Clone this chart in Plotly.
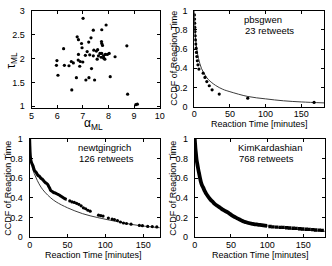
import plotly.graph_objects as go

# ---------------- data ----------------
alpha_ml = [7.01, 7.91, 7.74, 7.41, 6.78, 7.32, 6.83, 6.95, 7.23, 7.73, 7.74, 7.77, 8.72,
            6.25, 6.97, 7.17, 7.43, 7.27, 7.53, 7.58, 7.10, 7.67, 7.61, 7.41, 7.56, 6.83,
            7.88, 7.96, 8.03, 7.81, 7.82, 7.72, 7.86, 8.26, 7.74, 5.99, 5.97, 6.28, 6.46,
            6.55, 6.63, 6.82, 6.90, 7.00, 6.88, 7.34, 6.03, 6.75, 7.24, 7.12, 7.46, 8.07,
            6.57, 8.75, 9.07, 9.13]
tau_ml = [2.85, 2.71, 2.61, 2.60, 2.46, 2.44, 2.40, 2.32, 2.35, 2.36, 2.32, 2.28, 2.27,
          2.21, 2.23, 2.15, 2.18, 2.08, 2.16, 2.19, 2.07, 2.11, 2.06, 2.06, 1.99, 2.09,
          2.09, 2.09, 2.11, 2.06, 2.01, 2.03, 1.99, 2.04, 2.11, 1.96, 1.86, 1.86, 1.85,
          1.94, 1.91, 1.97, 1.94, 1.93, 1.84, 1.79, 1.65, 1.60, 1.60, 1.55, 1.55, 1.62,
          1.34, 1.25, 1.03, 1.04]

pbs_t = [0.2, 0.4, 0.6, 0.8, 1.0, 1.3, 1.6, 2.0, 2.5, 3.0, 3.6, 4.3, 5.2, 6.5,
         12.5, 15, 17.6, 21, 25, 35, 75, 168]
pbs_ccdf = [0.957, 0.913, 0.870, 0.826, 0.783, 0.739, 0.696, 0.652, 0.609, 0.565, 0.522,
            0.478, 0.435, 0.391, 0.348, 0.304, 0.261, 0.217, 0.174, 0.130, 0.087, 0.043]
pbs_fit_t = [0, 1, 2, 4, 6, 10, 15, 20, 30, 40, 50, 75, 100, 125, 150, 182]
pbs_fit_y = [1.0, 0.80, 0.70, 0.58, 0.50, 0.40, 0.33, 0.28, 0.22, 0.18, 0.155, 0.105,
             0.08, 0.06, 0.048, 0.038]

newt_head_t = [0, 0.3, 0.6, 1.0, 1.5, 2.1, 3.0, 4.3, 5.5, 6.4, 8.6, 11, 13, 15, 17, 19,
               21, 23.6, 25, 26.5, 28, 30, 32, 34, 36.5, 39, 41, 43, 45, 47, 49]
newt_head_ccdf = [1.0, 0.93, 0.87, 0.82, 0.79, 0.77, 0.75, 0.73, 0.70, 0.68, 0.66, 0.63,
                  0.62, 0.60, 0.59, 0.57, 0.555, 0.54, 0.52, 0.50, 0.475, 0.465, 0.455,
                  0.45, 0.44, 0.43, 0.42, 0.41, 0.40, 0.39, 0.385]
newt_tail_t = [53, 56, 59, 62, 65, 68, 71, 74, 77, 80, 91, 94, 97, 104, 109, 112, 116,
               120, 124, 128, 134, 145, 149, 156, 162, 168]
newt_tail_ccdf = [0.37, 0.36, 0.355, 0.345, 0.335, 0.32, 0.30, 0.29, 0.275, 0.265, 0.225,
                  0.22, 0.215, 0.195, 0.185, 0.18, 0.17, 0.155, 0.145, 0.14, 0.133, 0.12,
                  0.118, 0.11, 0.108, 0.105]
newt_fit_t = [0, 1, 3, 6, 10, 15, 20, 28, 35, 50, 70, 90, 115, 135, 155, 172]
newt_fit_y = [1.0, 0.82, 0.72, 0.65, 0.58, 0.51, 0.46, 0.40, 0.36, 0.30, 0.24, 0.20,
              0.16, 0.13, 0.11, 0.097]

kim_head_t = [0, 0.5, 1.0, 1.6, 2.5, 3.9, 5.0, 6.1, 7.2, 8.4, 10, 12, 13.5, 15.2, 17.5,
              19.8, 22, 24.3, 27.5, 31, 35, 40, 45, 49, 53, 58, 62, 67.5, 71, 74, 80,
              85.5, 90, 94.8, 100]
kim_head_ccdf = [1.0, 0.95, 0.90, 0.855, 0.79, 0.73, 0.685, 0.645, 0.605, 0.565, 0.53,
                 0.50, 0.475, 0.45, 0.425, 0.40, 0.38, 0.365, 0.34, 0.32, 0.30, 0.275,
                 0.255, 0.235, 0.215, 0.195, 0.18, 0.16, 0.152, 0.145, 0.137, 0.13,
                 0.125, 0.12, 0.115]
kim_tail_t = [104, 108, 113, 118, 122, 127, 131, 136, 140, 145, 149, 154, 158, 163,
              167, 172, 176]
kim_tail_ccdf = [0.11, 0.105, 0.103, 0.10, 0.10, 0.097, 0.094, 0.092, 0.09, 0.087,
                 0.084, 0.082, 0.08, 0.077, 0.074, 0.072, 0.07]
kim_fit_t = [0, 1, 2, 4, 6, 8, 10, 15, 20, 25, 30, 40, 50, 60, 70, 80, 100, 120, 140,
             160, 181]
kim_fit_y = [1.0, 0.88, 0.80, 0.70, 0.63, 0.58, 0.54, 0.46, 0.40, 0.36, 0.32, 0.27,
             0.225, 0.19, 0.165, 0.145, 0.115, 0.095, 0.08, 0.07, 0.06]

panel_names = ["pbsgwen", "newtgingrich", "KimKardashian"]
panel_counts = ["23 retweets", "126 retweets", "768 retweets"]

ccdf_ticks = [0, 0.2, 0.4, 0.6, 0.8, 1]
ccdf_ticktext = ["0", "0.2", "0.4", "0.6", "0.8", "1"]
time_ticks = [0, 50, 100, 150]
alpha_ticks = [5, 6, 7, 8, 9, 10]
tau_ticks = [1, 1.5, 2, 2.5, 3]

# ---------------- layout helpers ----------------
W, H = 332, 266
FONT = "Liberation Sans"


def xd(a, b):
    return [a / W, b / W]


def yd(top, bottom):
    return [1 - bottom / H, 1 - top / H]


def px(x):
    return x / W


def py(y):
    return 1 - y / H


dot = dict(color="black", size=3.2)
fitline = dict(color="#3c3c3c", width=1)

fig = go.Figure()

# panel 1: scatter alpha vs tau
fig.add_trace(go.Scatter(x=alpha_ml, y=tau_ml, mode="markers", marker=dot,
                         xaxis="x", yaxis="y"))

# panel 2: pbsgwen
fig.add_trace(go.Scatter(x=pbs_fit_t, y=pbs_fit_y, mode="lines", line=fitline,
                         line_shape="spline", xaxis="x2", yaxis="y2"))
fig.add_trace(go.Scatter(x=pbs_t, y=pbs_ccdf, mode="markers", marker=dot,
                         xaxis="x2", yaxis="y2"))

# panel 3: newtgingrich
fig.add_trace(go.Scatter(x=newt_fit_t, y=newt_fit_y, mode="lines", line=fitline,
                         line_shape="spline", xaxis="x3", yaxis="y3"))
fig.add_trace(go.Scatter(x=newt_head_t, y=newt_head_ccdf, mode="lines",
                         line=dict(color="black", width=3), line_shape="spline",
                         xaxis="x3", yaxis="y3"))
fig.add_trace(go.Scatter(x=newt_tail_t, y=newt_tail_ccdf, mode="markers", marker=dot,
                         xaxis="x3", yaxis="y3"))

# panel 4: KimKardashian
fig.add_trace(go.Scatter(x=kim_fit_t, y=kim_fit_y, mode="lines",
                         line=dict(color="#777777", width=1.2), line_shape="spline",
                         xaxis="x4", yaxis="y4"))
fig.add_trace(go.Scatter(x=kim_head_t, y=kim_head_ccdf, mode="lines",
                         line=dict(color="black", width=3.8), line_shape="spline",
                         xaxis="x4", yaxis="y4"))
fig.add_trace(go.Scatter(x=kim_tail_t, y=kim_tail_ccdf, mode="markers",
                         marker=dict(color="black", size=3.4, symbol="square"),
                         xaxis="x4", yaxis="y4"))

axis_common = dict(showline=True, linecolor="black", linewidth=1, mirror="ticks",
                   ticks="inside", ticklen=3, tickcolor="black", tickwidth=1,
                   showgrid=False, zeroline=False,
                   tickfont=dict(family=FONT, size=9, color="black"))
xcommon = dict(axis_common, ticklabelstandoff=-1)
ycommon = dict(axis_common, ticklabelstandoff=4)

fig.update_layout(
    width=W, height=H,
    margin=dict(l=0, r=0, t=0, b=0),
    paper_bgcolor="white", plot_bgcolor="white",
    showlegend=False,
    font=dict(family=FONT, color="black"),
    xaxis=dict(domain=xd(29.3, 160.5), anchor="y", range=[5, 10], tickvals=alpha_ticks,
               **xcommon),
    yaxis=dict(domain=yd(6, 107), anchor="x", range=[0.96, 3.01], tickvals=tau_ticks,
               ticktext=["1", "1.5", "2", "2.5", "3"], **ycommon),
    xaxis2=dict(domain=xd(196, 329), anchor="y2", range=[0, 182], tickvals=time_ticks,
                **xcommon),
    yaxis2=dict(domain=yd(6, 105.5), anchor="x2", range=[0, 1], tickvals=ccdf_ticks,
                ticktext=ccdf_ticktext, **ycommon),
    xaxis3=dict(domain=xd(27.3, 160.7), anchor="y3", range=[0, 172], tickvals=time_ticks,
                **xcommon),
    yaxis3=dict(domain=yd(139.3, 241.3), anchor="x3", range=[0, 1], tickvals=ccdf_ticks,
                ticktext=ccdf_ticktext, **ycommon),
    xaxis4=dict(domain=xd(196.5, 330), anchor="y4", range=[0, 180], tickvals=time_ticks,
                **xcommon),
    yaxis4=dict(domain=yd(139.3, 241.3), anchor="x4", range=[0, 1], tickvals=ccdf_ticks,
                ticktext=ccdf_ticktext, **ycommon),
)

ann = []
tfont = dict(family=FONT, size=9, color="black")
# axis titles
ann.append(dict(text="α<sub>ML</sub>", x=px(93), y=py(124), font=dict(family=FONT, size=12, color="black")))
ann.append(dict(text="τ<sub>ML</sub>", x=px(9), y=py(57), textangle=-90,
                font=dict(family=FONT, size=12, color="black")))
ann.append(dict(text="CCDF of Reaction Time", x=px(175), y=py(55), textangle=-90, font=tfont))
ann.append(dict(text="Reaction Time [minutes]", x=px(263), y=py(124), font=tfont))
ann.append(dict(text="CCDF of Reaction Time", x=px(5), y=py(190), textangle=-90, font=tfont))
ann.append(dict(text="Reaction Time [minutes]", x=px(93), y=py(260), font=tfont))
ann.append(dict(text="CCDF of Reaction Time", x=px(174), y=py(190), textangle=-90, font=tfont))
ann.append(dict(text="Reaction Time [minutes]", x=px(264), y=py(260), font=tfont))
# panel labels
lfont = dict(family=FONT, size=9.5, color="black")
for name, count, (lx, ly) in zip(panel_names, panel_counts,
                                  [(245, 15), (75, 148), (239, 148)]):
    ann.append(dict(text=name, x=px(lx), y=py(ly), xanchor="left", font=lfont))
    ann.append(dict(text=count, x=px(lx + 1), y=py(ly + 11), xanchor="left", font=lfont))

for a in ann:
    a.setdefault("xanchor", "center")
    a["yanchor"] = "middle"
    a["xref"] = "paper"
    a["yref"] = "paper"
    a["showarrow"] = False
fig.update_layout(annotations=ann)

fig.write_html("out.html", config={"displayModeBar": False},
               post_script="document.body.style.margin='0px';document.body.style.padding='0px';")
